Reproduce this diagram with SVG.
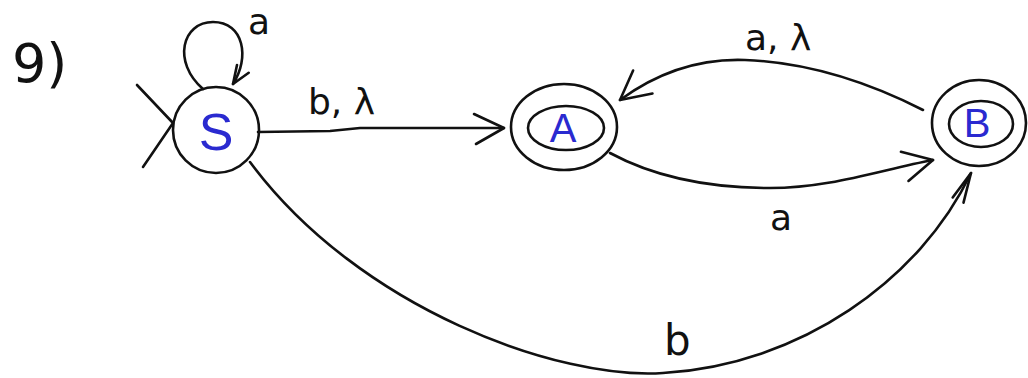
<svg xmlns="http://www.w3.org/2000/svg" width="1028" height="378" viewBox="0 0 1028 378">
<style>
.ln{fill:none;stroke:#111;stroke-width:2.6;stroke-linecap:round;stroke-linejoin:round}
.st{fill:none;stroke:#111;stroke-width:2.6}
.lbl{font-family:"DejaVu Sans","Liberation Sans",sans-serif;font-size:36px;fill:#111}
.nm{font-family:"Liberation Sans","DejaVu Sans",sans-serif;fill:#2a2ad0;text-anchor:middle}
</style>
<defs>
<marker id="arr" markerUnits="userSpaceOnUse" markerWidth="40" markerHeight="40" refX="34" refY="20" orient="auto">
<path d="M4,6 L34,20 L6,36" fill="none" stroke="#111" stroke-width="2.6" stroke-linecap="round" stroke-linejoin="round"/>
</marker>
<marker id="arrS" markerUnits="userSpaceOnUse" markerWidth="30" markerHeight="30" refX="24" refY="15" orient="auto">
<path d="M6,8 L24,15 L6,22" fill="none" stroke="#111" stroke-width="2.6" stroke-linecap="round" stroke-linejoin="round"/>
</marker>
<marker id="arrN" markerUnits="userSpaceOnUse" markerWidth="40" markerHeight="30" refX="32" refY="15" orient="auto">
<path d="M2,9 L32,15 L2,21" fill="none" stroke="#111" stroke-width="2.6" stroke-linecap="round" stroke-linejoin="round"/>
</marker>
</defs>
<rect width="1028" height="378" fill="#fff"/>
<text class="lbl" x="12" y="82" style="font-size:54px">9)</text>
<g id="connectors">
<path id="start" class="ln" d="M137,85 L173,123 L143,167"/>
<path id="loopS" class="ln" d="M203,89 C172,62 182,22 213,22 C244,22 250,58 233,84" marker-end="url(#arrS)"/>
<path id="SA" class="ln" d="M258,132 L330,131 L360,128 L504,128" marker-end="url(#arr)"/>
<path id="BA" class="ln" d="M923,110 C860,78 800,62 745,60 C690,58 650,78 620,100" marker-end="url(#arr)"/>
<path id="AB" class="ln" d="M610,153 C660,180 720,188 770,188 C830,188 880,170 933,160" marker-end="url(#arr)"/>
<path id="SB" class="ln" d="M250,162 C360,310 560,380 663,373 C800,365 920,280 971,173" marker-end="url(#arrN)"/>
</g>
<text class="lbl" x="248" y="34">a</text>
<text class="lbl" x="308" y="114">b, λ</text>
<text class="lbl" x="745" y="50">a, λ</text>
<text class="lbl" x="770" y="230">a</text>
<text class="lbl" x="664" y="355" style="font-size:42px">b</text>
<g id="S">
<circle class="st" cx="216" cy="130" r="43"/>
<text class="nm" x="216" y="150" style="font-size:52px">S</text>
</g>
<g id="A">
<ellipse class="st" cx="564" cy="127" rx="53" ry="43"/>
<ellipse class="st" cx="566" cy="128" rx="38" ry="22"/>
<text class="nm" x="563" y="142" style="font-size:40px">A</text>
</g>
<g id="B">
<ellipse class="st" cx="979" cy="123" rx="47" ry="43"/>
<ellipse class="st" cx="981" cy="124" rx="32" ry="23"/>
<text class="nm" x="977" y="137" style="font-size:40px">B</text>
</g>
</svg>
